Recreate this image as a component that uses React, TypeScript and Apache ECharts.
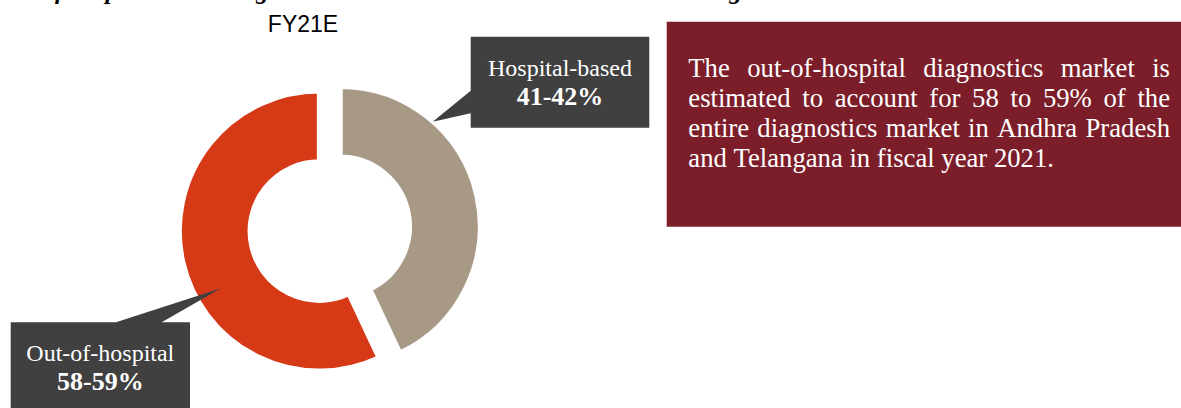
import React, { useEffect, useRef } from 'react';
import * as echarts from 'echarts';

// ---- data ----
const categories = ['Hospital-based', 'Out-of-hospital'];
const shares = [43, 57];
const shareLabels = ['41-42%', '58-59%'];
const sliceColors = ['#A89886', '#D53916'];
const chartTitle = 'FY21E';
const figureCaption = 'Share of hospital-based diagnostics market in Andhra Pradesh and Telangana';
const paragraphLines = [
  'The out-of-hospital diagnostics market is',
  'estimated to account for 58 to 59% of the',
  'entire diagnostics market in Andhra Pradesh',
  'and Telangana in fiscal year 2021.',
];

const SERIF = '"Liberation Serif", "Times New Roman", serif';
const SANS = '"Liberation Sans", Arial, sans-serif';

function txt(x: number, y: number, text: string, font: string, fill: string, align = 'center') {
  return {
    type: 'text',
    x,
    y,
    z: 110,
    silent: true,
    style: {
      text,
      font,
      fill,
      align,
      verticalAlign: 'middle',
      textAlign: align,
      textVerticalAlign: 'middle',
    },
  };
}

function justifiedParagraph(lines: string[], size: number, left: number, right: number, midY0: number, step: number) {
  const canvas = document.createElement('canvas');
  const ctx = canvas.getContext('2d')!;
  const font = `${size}px ${SERIF}`;
  ctx.font = font;
  const spaceW = ctx.measureText(' ').width;
  const els: any[] = [];
  lines.forEach((line, li) => {
    const words = line.split(' ');
    const widths = words.map((w) => ctx.measureText(w).width);
    const total = widths.reduce((a, b) => a + b, 0);
    const last = li === lines.length - 1;
    const gap = last || words.length < 2 ? spaceW : (right - left - total) / (words.length - 1);
    let x = left;
    words.forEach((w, wi) => {
      els.push(txt(x, midY0 + li * step, w, font, '#FFFFFF', 'left'));
      x += widths[wi] + gap;
    });
  });
  return els;
}

export default function App() {
  const ref = useRef<HTMLDivElement>(null);
  useEffect(() => {
    if (!ref.current) return;
    const chart = echarts.init(ref.current, undefined, { renderer: 'svg' });
    const graphics: any[] = [
      // cut-off caption at top
      txt(-25, -9.5, figureCaption, `italic bold 25px ${SERIF}`, '#000000', 'left'),
      // title
      txt(303, 23.7, chartTitle, `23px ${SANS}`, '#000000'),
      // callout: hospital-based
      {
        type: 'polygon',
        z: 100,
        silent: true,
        shape: {
          points: [
            [470.7, 36.7], [649.3, 36.7], [649.3, 127.7], [470.7, 127.7],
            [470.7, 113.3], [432.7, 121.7], [470.7, 90.7],
          ],
        },
        style: { fill: '#404040' },
      },
      txt(560, 67.9, categories[0], `24px ${SERIF}`, '#FFFFFF'),
      txt(560, 96.9, shareLabels[0], `bold 26px ${SERIF}`, '#FFFFFF'),
      // callout: out-of-hospital
      {
        type: 'polygon',
        z: 100,
        silent: true,
        shape: {
          points: [
            [10.7, 322.3], [116, 322.3], [221, 288.3], [161.7, 322.3],
            [190, 322.3], [190, 410], [10.7, 410],
          ],
        },
        style: { fill: '#404040' },
      },
      txt(100.3, 352.6, categories[1], `24px ${SERIF}`, '#FFFFFF'),
      txt(100.3, 381.9, shareLabels[1], `bold 26px ${SERIF}`, '#FFFFFF'),
      // commentary box
      {
        type: 'rect',
        z: 100,
        silent: true,
        shape: { x: 666.7, y: 21.7, width: 520, height: 205 },
        style: { fill: '#7B1E2A' },
      },
      ...justifiedParagraph(paragraphLines, 26.7, 688.3, 1170, 67.7, 30),
    ];
    chart.setOption({
      animation: false,
      graphic: { elements: graphics },
      series: [
        {
          type: 'pie',
          center: [329.8, 228.75],
          radius: [69.3, 140],
          startAngle: 90,
          clockwise: true,
          selectedMode: 'multiple',
          selectedOffset: 10.7,
          silent: true,
          label: { show: false },
          labelLine: { show: false },
          emphasis: { disabled: true, scale: false },
          itemStyle: { borderWidth: 5, borderColor: '#FFFFFF' },
          data: categories.map((name, i) => ({
            name,
            value: shares[i],
            selected: true,
            itemStyle: { color: sliceColors[i] },
          })),
        },
      ],
    });
    return () => chart.dispose();
  }, []);
  return (
    <div
      ref={ref}
      style={{ position: 'absolute', left: 0, top: 0, width: 1181, height: 408, background: '#FFFFFF', overflow: 'hidden' }}
    />
  );
}
